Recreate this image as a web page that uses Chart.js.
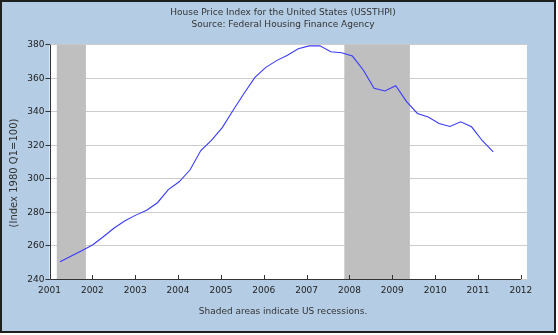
<!DOCTYPE html>
<html>
<head>
<meta charset="utf-8">
<script src="https://cdn.jsdelivr.net/npm/chart.js@4.4.0/dist/chart.umd.min.js"></script>
<style>
  html, body { margin: 0; padding: 0; background: #fff; }
  .frame { width: 552px; height: 329px; border: 2px solid #1f1f1f; background: #b4cde5; }
  canvas { display: block; }
</style>
</head>
<body>
<div class="frame"><canvas id="hpiChart" width="552" height="329"></canvas></div>
<script>
// House Price Index, quarterly (1980 Q1 = 100)
const quarters = [
  '2001Q2','2001Q3','2001Q4','2002Q1','2002Q2','2002Q3','2002Q4','2003Q1','2003Q2','2003Q3','2003Q4',
  '2004Q1','2004Q2','2004Q3','2004Q4','2005Q1','2005Q2','2005Q3','2005Q4','2006Q1','2006Q2','2006Q3',
  '2006Q4','2007Q1','2007Q2','2007Q3','2007Q4','2008Q1','2008Q2','2008Q3','2008Q4','2009Q1','2009Q2',
  '2009Q3','2009Q4','2010Q1','2010Q2','2010Q3','2010Q4','2011Q1','2011Q2'
];
const hpiValues = [
  250.5, 253.7, 257.0, 260.5, 265.4, 270.6, 274.9, 278.3, 281.2, 285.7, 293.5,
  298.2, 305.2, 316.8, 323.1, 330.7, 341.0, 351.0, 360.5, 366.5, 370.5, 373.7,
  377.6, 379.3, 379.3, 375.8, 375.2, 373.2, 364.9, 354.0, 352.4, 355.5, 346.0,
  339.0, 336.8, 333.0, 331.2, 334.0, 331.0, 322.7, 316.1
];
const yearTicks = [2001, 2002, 2003, 2004, 2005, 2006, 2007, 2008, 2009, 2010, 2011, 2012];
const indexTicks = [240, 260, 280, 300, 320, 340, 360, 380];
const recessionStart = [2001.17, 2007.88];
const recessionEnd = [2001.85, 2009.41];
const titleLines = ['House Price Index for the United States (USSTHPI)', 'Source: Federal Housing Finance Agency'];
const caption = 'Shaded areas indicate US recessions.';
const yTitle = '(Index 1980 Q1=100)';

const FONT = '"DejaVu Sans", Verdana, sans-serif';

const decor = {
  id: 'decor',
  beforeDraw(chart) {
    const { ctx, chartArea: a } = chart;
    ctx.save();
    ctx.fillStyle = '#fff';
    ctx.fillRect(a.left, a.top, a.right - a.left, a.bottom - a.top);
    ctx.restore();
  },
  beforeDatasetsDraw(chart) {
    const { ctx, chartArea: a, scales } = chart;
    ctx.save();
    ctx.fillStyle = '#bfbfbf';
    recessionStart.forEach((s, i) => {
      const x0 = scales.years.getPixelForValue(s);
      const x1 = scales.years.getPixelForValue(recessionEnd[i]);
      ctx.fillRect(x0, a.top, x1 - x0, a.bottom - a.top);
    });
    ctx.restore();
  },
  afterDatasetsDraw(chart) {
    const { ctx, chartArea: a, scales } = chart;
    ctx.save();
    // axis lines + inward year ticks
    ctx.strokeStyle = '#333';
    ctx.lineWidth = 1;
    ctx.beginPath();
    ctx.moveTo(Math.round(a.left) + 0.5, a.top);
    ctx.lineTo(Math.round(a.left) + 0.5, Math.round(a.bottom) + 0.5);
    ctx.lineTo(scales.years.getPixelForValue(2012), Math.round(a.bottom) + 0.5);
    yearTicks.forEach(v => {
      const x = Math.round(scales.years.getPixelForValue(v)) + 0.5;
      ctx.moveTo(x, Math.round(a.bottom));
      ctx.lineTo(x, Math.round(a.bottom) - 4);
    });
    ctx.stroke();

    ctx.fillStyle = '#333';
    ctx.textAlign = 'center';
    ctx.textBaseline = 'middle';
    ctx.font = '9px ' + FONT;
    ctx.fillText(titleLines[0], 281, 11);
    ctx.fillText(titleLines[1], 281, 23);
    ctx.fillText(caption, 281, 310);

    ctx.font = '10px ' + FONT;
    ctx.translate(12, 171);
    ctx.rotate(-Math.PI / 2);
    ctx.fillText(yTitle, 0, 0);
    ctx.restore();
  }
};

new Chart(document.getElementById('hpiChart'), {
  type: 'line',
  data: {
    labels: quarters,
    datasets: [{
      label: 'USSTHPI',
      data: hpiValues.map((v, i) => ({ x: i, y: v })),
      xAxisID: 'x',
      yAxisID: 'y',
      borderColor: '#3a3aff',
      borderWidth: 1.1,
      pointRadius: 0,
      tension: 0,
      fill: false
    }]
  },
  options: {
    responsive: false,
    animation: false,
    layout: { padding: { top: 42.7, right: 27, left: 0, bottom: 0 } },
    plugins: { legend: { display: false }, tooltip: { enabled: false } },
    scales: {
      x: { type: 'linear', display: false, min: -0.97, max: 43.12 },
      years: {
        type: 'linear',
        position: 'bottom',
        min: 2001,
        max: 2012.143,
        afterBuildTicks: s => { s.ticks = yearTicks.map(v => ({ value: v })); },
        afterFit: s => { s.height = 51.7; },
        grid: { display: false, drawTicks: false },
        border: { display: false },
        ticks: { color: '#222', padding: 6, font: { family: FONT, size: 9 }, callback: v => String(v), maxRotation: 0, autoSkip: false }
      },
      y: {
        min: 240,
        max: 380,
        afterBuildTicks: s => { s.ticks = indexTicks.map(v => ({ value: v })); },
        afterFit: s => { s.width = 47.5; },
        grid: { color: '#cccccc', lineWidth: 1, tickColor: '#333', tickLength: 4 },
        border: { display: false },
        ticks: { color: '#222', padding: 1, font: { family: FONT, size: 9 } }
      }
    }
  },
  plugins: [decor]
});
</script>
</body>
</html>
